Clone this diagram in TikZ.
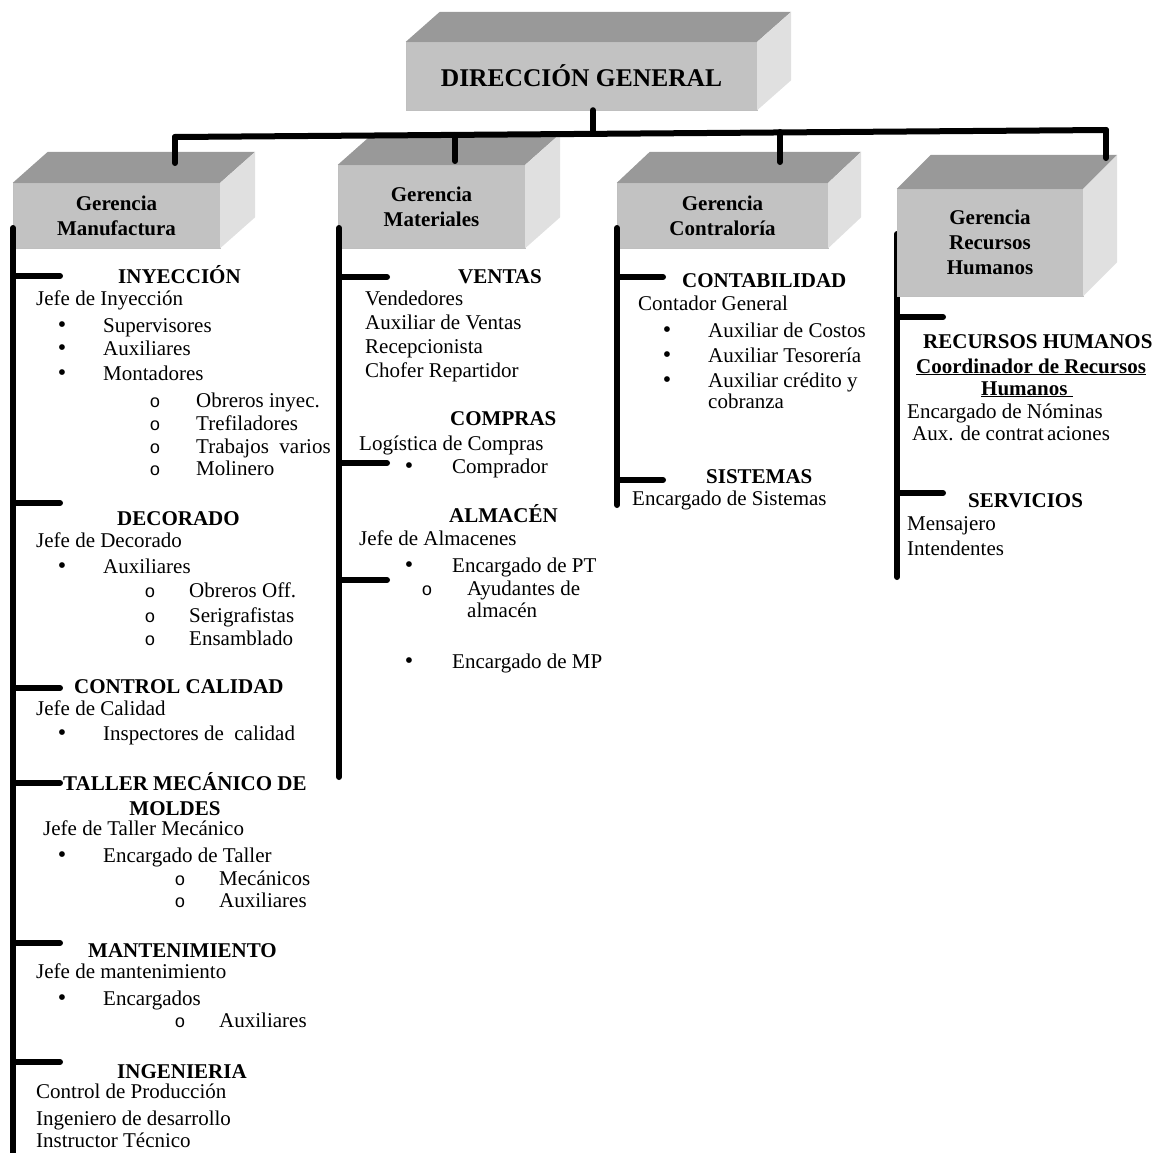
\documentclass[tikz,border=0pt]{standalone}
\usepackage{fontspec}
\setmainfont{Liberation Serif}
\newfontfamily\fuenteo{Liberation Mono}
\definecolor{grisfrente}{gray}{0.76}
\definecolor{gristecho}{gray}{0.6}
\definecolor{grislado}{gray}{0.88}
\begin{document}
\begin{tikzpicture}[x=1pt, y=-1pt]
  \tikzstyle{cara} = [rectangle, draw=black!25, fill=grisfrente, align=center, inner sep=0, font=\fontsize{21}{25}\selectfont\bfseries]
  \tikzstyle{linea} = [line width=6pt, line cap=round]
  \tikzstyle{area} = [anchor=base west, inner sep=0, font=\fontsize{21}{23}\selectfont\bfseries]
  \tikzstyle{puesto} = [anchor=base west, inner sep=0, font=\fontsize{21}{23}\selectfont]
  \tikzstyle{punto} = [anchor=base, inner sep=0, font=\fontsize{24}{23}\selectfont]
  \tikzstyle{circ} = [anchor=base, inner sep=0, font=\fontsize{18}{23}\fuenteo]

  \useasboundingbox (0,0) rectangle (1156,1153);

  % RH line runs behind its box
  \coordinate (h0) at (897,234);
  \coordinate (h1) at (897,577);
  \draw[linea] (h0) -- (h1);

  % Boxes
  \node (dir) [cara, minimum width=351, minimum height=68, font=\fontsize{25.5}{28}\selectfont\bfseries] at (581.5,76) {DIRECCIÓN GENERAL};
  \node (man) [cara, minimum width=207, minimum height=65] at (116.5,215.5) {Gerencia\\Manufactura};
  \node (mat) [cara, minimum width=187, minimum height=83] at (431.5,206.5) {Gerencia\\Materiales};
  \node (con) [cara, minimum width=211, minimum height=65] at (722.5,215.5) {Gerencia\\Contraloría};
  \node (rh) [cara, minimum width=186, minimum height=107] at (990,242.5) {Gerencia\\Recursos\\Humanos};
  \foreach \b/\dx/\dy in {dir/34/30, man/35/31, mat/35/31, con/33/31, rh/34/34} {
    \fill[gristecho] (\b.north west) -- ++(\dx,-\dy) -- ([shift={(\dx,-\dy)}]\b.north east) -- (\b.north east) -- cycle;
    \fill[grislado] (\b.north east) -- ++(\dx,-\dy) -- ([shift={(\dx,-\dy)}]\b.south east) -- (\b.south east) -- cycle;
  }

  % Bar and drops
  \coordinate (b0) at (593,134);
  \coordinate (b1) at (175,137);
  \coordinate (b2) at (455,135);
  \coordinate (b3) at (780,132);
  \coordinate (b4) at (1106,130);
  \coordinate (t1) at (175,163);
  \coordinate (t2) at (455,161);
  \coordinate (t3) at (780,162);
  \coordinate (t4) at (1106,158);
  \draw[linea] (dir.south -| b0) -- (b0);
  \draw[linea] (b1) -- (b4);
  \draw[linea] (b1) -- (t1);
  \draw[linea] (b2) -- (t2);
  \draw[linea] (b3) -- (t3);
  \draw[linea] (b4) -- (t4);

  % Column lines
  \coordinate (m0) at (13,228);
  \coordinate (m1) at (13,1153);
  \coordinate (a0) at (339,228);
  \coordinate (a1) at (339,777);
  \coordinate (c0) at (617,228);
  \coordinate (c1) at (617,505);
  \draw[linea] (m0) -- (m1);
  \draw[linea] (a0) -- (a1);
  \draw[linea] (c0) -- (c1);
  \foreach \y in {276,503,688,783,943,1062} \draw[linea] (m0 |- 0,\y) -- ++(47,0);
  \foreach \y in {277,463,580} \draw[linea] (a0 |- 0,\y) -- ++(48,0);
  \foreach \y in {277,480} \draw[linea] (c0 |- 0,\y) -- ++(46,0);
  \foreach \y in {317,493} \draw[linea] (h0 |- 0,\y) -- ++(46,0);

  % Manufactura
  \node (iny) [area] at (118,283) {INYECCIÓN};
  \node (iny0) [puesto] at (36,305) {Jefe de Inyección};
  \node (iny1p) [punto] at (62,332) {•};
  \node (iny1) [puesto] at (103,332) {Supervisores};
  \node (iny2p) [punto] at (62,355) {•};
  \node (iny2) [puesto] at (103,355) {Auxiliares};
  \node (iny3p) [punto] at (62,380) {•};
  \node (iny3) [puesto] at (103,380) {Montadores};
  \node (iny4o) [circ] at (155,407) {o};
  \node (iny4) [puesto] at (196,407) {Obreros inyec.};
  \node (iny5o) [circ] at (155,430) {o};
  \node (iny5) [puesto] at (196,430) {Trefiladores};
  \node (iny6o) [circ] at (155,453) {o};
  \node (iny6) [puesto] at (196,453) {Trabajos\ \ varios};
  \node (iny7o) [circ] at (155,475) {o};
  \node (iny7) [puesto] at (196,475) {Molinero};

  \node (dec) [area] at (117,525) {DECORADO};
  \node (dec0) [puesto] at (36,547) {Jefe de Decorado};
  \node (dec1p) [punto] at (62,573) {•};
  \node (dec1) [puesto] at (103,573) {Auxiliares};
  \node (dec2o) [circ] at (150,597) {o};
  \node (dec2) [puesto] at (189,597) {Obreros Off.};
  \node (dec3o) [circ] at (150,622) {o};
  \node (dec3) [puesto] at (189,622) {Serigrafistas};
  \node (dec4o) [circ] at (150,645) {o};
  \node (dec4) [puesto] at (189,645) {Ensamblado};

  \node (cal) [area] at (74,693) {CONTROL CALIDAD};
  \node (cal0) [puesto] at (36,715) {Jefe de Calidad};
  \node (cal1p) [punto] at (62,740) {•};
  \node (cal1) [puesto] at (103,740) {Inspectores de\ \ calidad};

  \node (tal) [area] at (63,790) {TALLER MECÁNICO DE};
  \node (talb) [area, anchor=base] at (175,815) {MOLDES};
  \node (tal0) [puesto] at (43,835) {Jefe de Taller Mecánico};
  \node (tal1p) [punto] at (62,862) {•};
  \node (tal1) [puesto] at (103,862) {Encargado de Taller};
  \node (tal2o) [circ] at (180,885) {o};
  \node (tal2) [puesto] at (219,885) {Mecánicos};
  \node (tal3o) [circ] at (180,907) {o};
  \node (tal3) [puesto] at (219,907) {Auxiliares};

  \node (mto) [area] at (88,957) {MANTENIMIENTO};
  \node (mto0) [puesto] at (36,978) {Jefe de mantenimiento};
  \node (mto1p) [punto] at (62,1005) {•};
  \node (mto1) [puesto] at (103,1005) {Encargados};
  \node (mto2o) [circ] at (180,1027) {o};
  \node (mto2) [puesto] at (219,1027) {Auxiliares};

  \node (ing) [area] at (117,1078) {INGENIERIA};
  \node (ing0) [puesto] at (36,1098) {Control de Producción};
  \node (ing1) [puesto] at (36,1125) {Ingeniero de desarrollo};
  \node (ing2) [puesto] at (36,1147) {Instructor Técnico};

  % Materiales
  \node (ven) [area] at (458,283) {VENTAS};
  \node (ven0) [puesto] at (365,305) {Vendedores};
  \node (ven1) [puesto] at (365,329) {Auxiliar de Ventas};
  \node (ven2) [puesto] at (365,353) {Recepcionista};
  \node (ven3) [puesto] at (365,377) {Chofer Repartidor};

  \node (cmp) [area] at (450,425) {COMPRAS};
  \node (cmp0) [puesto] at (359,450) {Logística de Compras};
  \node (cmp1p) [punto] at (409,473) {•};
  \node (cmp1) [puesto] at (452,473) {Comprador};

  \node (alm) [area] at (449,522) {ALMACÉN};
  \node (alm0) [puesto] at (359,545) {Jefe de Almacenes};
  \node (alm1p) [punto] at (409,572) {•};
  \node (alm1) [puesto] at (452,572) {Encargado de PT};
  \node (alm2o) [circ] at (427,595) {o};
  \node (alm2) [puesto] at (467,595) {Ayudantes de};
  \node (alm2b) [puesto] at (467,617) {almacén};
  \node (alm3p) [punto] at (409,668) {•};
  \node (alm3) [puesto] at (452,668) {Encargado de MP};

  % Contraloria
  \node (cnt) [area] at (682,287) {CONTABILIDAD};
  \node (cnt0) [puesto] at (638,310) {Contador General};
  \node (cnt1p) [punto] at (667,337) {•};
  \node (cnt1) [puesto] at (708,337) {Auxiliar de Costos};
  \node (cnt2p) [punto] at (667,362) {•};
  \node (cnt2) [puesto] at (708,362) {Auxiliar Tesorería};
  \node (cnt3p) [punto] at (667,387) {•};
  \node (cnt3) [puesto] at (708,387) {Auxiliar crédito y};
  \node (cnt3b) [puesto] at (708,408) {cobranza};

  \node (sis) [area] at (706,483) {SISTEMAS};
  \node (sis0) [puesto] at (632,505) {Encargado de Sistemas};

  % Recursos Humanos
  \node (rrh) [area] at (923,348) {RECURSOS HUMANOS};
  \node (rrh0) [area] at (916,373) {\underline{Coordinador de Recursos}};
  \node (rrh1) [area, anchor=base] at (1027,395) {\underline{Humanos\ }};
  \node (rrh2) [puesto] at (907,418) {Encargado de Nóminas};
  \node (rrh3) [puesto] at (912,440) {Aux. de contrat\hspace{3pt}aciones};

  \node (ser) [area] at (968,507) {SERVICIOS};
  \node (ser0) [puesto] at (907,530) {Mensajero};
  \node (ser1) [puesto] at (907,555) {Intendentes};

\end{tikzpicture}
\end{document}
